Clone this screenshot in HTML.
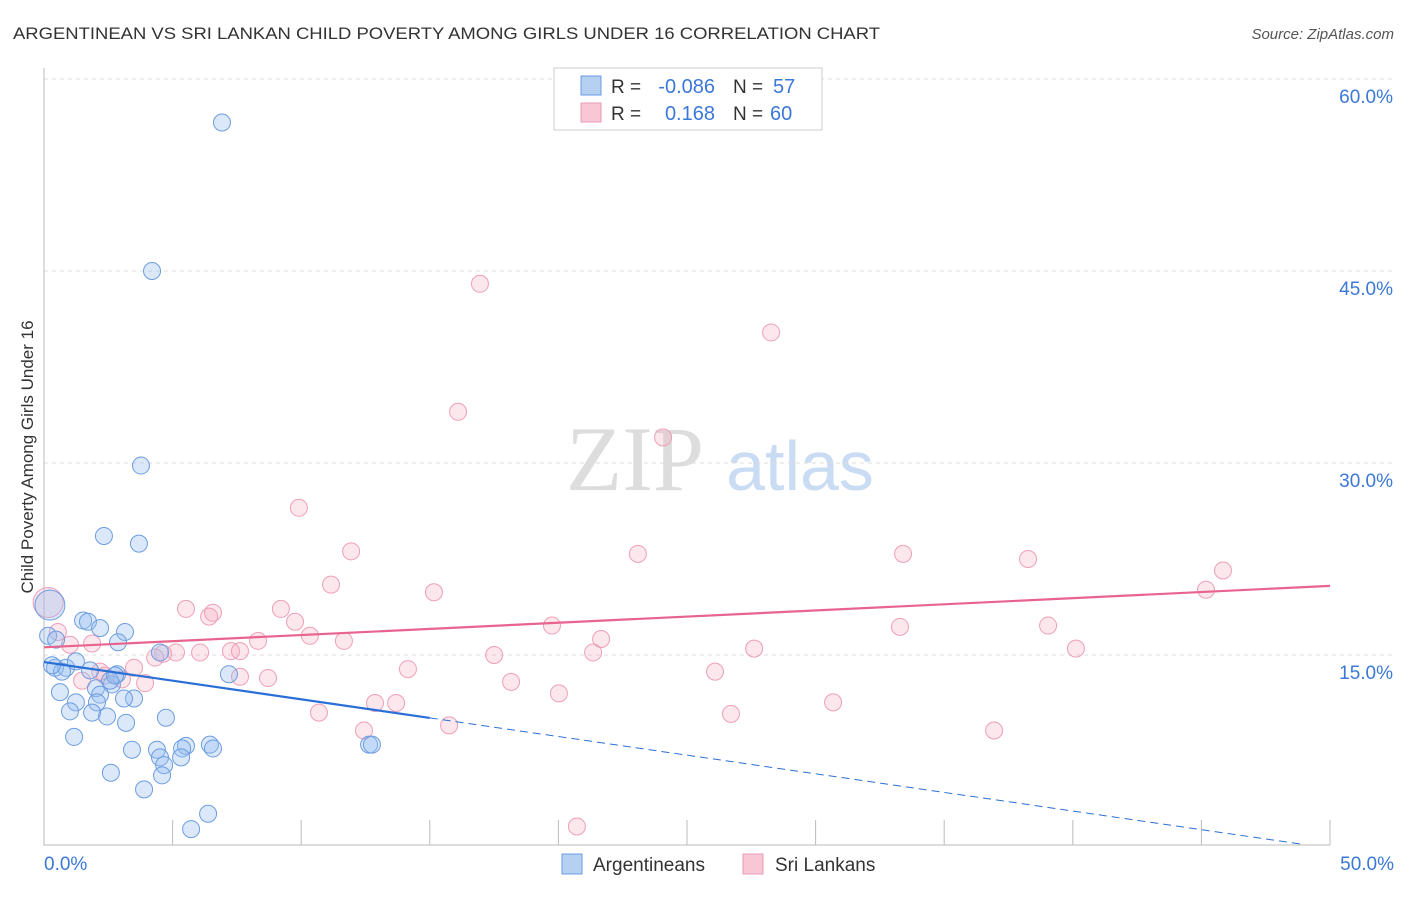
<!DOCTYPE html>
<html><head><meta charset="utf-8"><style>
body{margin:0;background:#fff;font-family:"Liberation Sans",sans-serif;}
</style></head><body>
<svg width="1406" height="892" xmlns="http://www.w3.org/2000/svg">
<text x="13" y="39" font-size="17" fill="#333" textLength="867" lengthAdjust="spacingAndGlyphs">ARGENTINEAN VS SRI LANKAN CHILD POVERTY AMONG GIRLS UNDER 16 CORRELATION CHART</text>
<text x="1394" y="39" font-size="15" fill="#555" text-anchor="end" font-style="italic">Source: ZipAtlas.com</text>
<text x="33" y="457" font-size="17" fill="#333" text-anchor="middle" transform="rotate(-90 33 457)">Child Poverty Among Girls Under 16</text>
<g><text x="635" y="490" font-size="92" fill="#ddd" font-family="Liberation Serif,serif" text-anchor="middle">ZIP</text><text x="800" y="490" font-size="70" fill="#c9dcf3" text-anchor="middle">atlas</text></g>
<g id="grid"></g><g id="axes"></g><g id="marks"></g>
<g>
<rect x="554" y="68" width="268" height="62" fill="#fff" stroke="#ccc"/>
<rect x="581" y="76" width="20" height="19" fill="#b6d0f2" stroke="#6a9be0"/>
<rect x="581" y="103" width="20" height="19" fill="#f8c6d4" stroke="#eb9bb3"/>
<text x="611" y="93" font-size="19" fill="#333">R =</text><text x="715" y="93" font-size="20" fill="#3b78d8" text-anchor="end">-0.086</text>
<text x="733" y="93" font-size="19" fill="#333">N =</text><text x="773" y="93" font-size="20" fill="#3b78d8">57</text>
<text x="611" y="120" font-size="19" fill="#333">R =</text><text x="715" y="120" font-size="20" fill="#3b78d8" text-anchor="end">0.168</text>
<text x="733" y="120" font-size="19" fill="#333">N =</text><text x="770" y="120" font-size="20" fill="#3b78d8">60</text>
</g>
<g>
<rect x="562" y="854" width="20" height="20" fill="#b6d0f2" stroke="#6a9be0"/>
<text x="593" y="871" font-size="19" fill="#333">Argentineans</text>
<rect x="743" y="854" width="20" height="20" fill="#f8c6d4" stroke="#eb9bb3"/>
<text x="775" y="871" font-size="19" fill="#333">Sri Lankans</text>
</g>
</svg>
<script>
const yTicks=[15,30,45,60];
const xTickLabels=["0.0%","50.0%"];
const blueX=[6.92,4.20,3.77,2.33,3.69,0.23,0.16,1.52,1.71,2.18,3.15,2.88,0.43,0.86,1.24,1.79,2.84,2.64,2.02,0.62,1.24,2.18,2.06,3.50,1.01,1.87,2.45,3.19,4.74,1.17,3.42,4.39,4.51,5.52,5.37,6.45,6.57,5.33,4.67,4.59,2.60,3.89,6.38,5.72,7.19,12.64,12.75,4.51,0.70,0.31,0.47,3.11,2.57,2.76];
const blueY=[56.6,45.0,29.8,24.3,23.7,18.9,16.5,17.7,17.6,17.1,16.8,16.0,14.0,14.0,14.5,13.8,13.5,12.7,12.4,12.1,11.3,11.9,11.3,11.6,10.6,10.5,10.2,9.7,10.1,8.6,7.6,7.6,7.0,7.9,7.7,8.0,7.7,7.0,6.4,5.6,5.8,4.5,2.6,1.4,13.5,8.0,8.0,15.2,13.7,14.2,16.2,11.6,13.0,13.4];
const pinkX=[16.95,28.27,16.10,24.07,9.91,11.94,23.09,33.40,38.26,11.16,15.16,45.84,45.18,5.52,6.57,6.42,9.21,9.76,19.75,33.28,39.04,10.34,8.32,11.66,21.66,40.12,7.27,7.62,6.07,5.13,4.63,4.32,17.50,21.35,27.61,14.15,3.50,2.37,7.62,8.71,26.09,3.03,3.93,18.16,20.02,12.87,13.69,10.69,26.71,30.68,12.44,15.75,36.94,20.72,0.16,0.54,1.01,1.87,1.48,2.18];
const pinkY=[44.0,40.2,34.0,32.0,26.5,23.1,22.9,22.9,22.5,20.5,19.9,21.6,20.1,18.6,18.3,18.0,18.6,17.6,17.3,17.2,17.3,16.5,16.1,16.1,16.25,15.5,15.3,15.3,15.2,15.2,15.1,14.8,15.0,15.2,15.5,13.9,14.0,13.4,13.3,13.2,13.7,13.1,12.8,12.9,12.0,11.25,11.25,10.5,10.4,11.3,9.1,9.5,9.1,1.6,19.1,16.8,15.8,15.9,13.0,13.7];
const blueTrend=[14.45,-0.291];
const pinkTrend=[15.6,0.096];
const sx=v=>44+v*25.72, sy=v=>847-v*12.8;
const NS="http://www.w3.org/2000/svg";
function mk(p,t,a){const e=document.createElementNS(NS,t);for(const k in a)e.setAttribute(k,a[k]);p.appendChild(e);return e;}
const grid=document.getElementById('grid'),axes=document.getElementById('axes'),marks=document.getElementById('marks');
yTicks.forEach(t=>{
 const l=mk(grid,'line',{x1:44,x2:1394,y1:sy(t),y2:sy(t),stroke:'#ddd','stroke-dasharray':'4 4'});
 
 
 const tx=mk(grid,'text',{x:1393,y:sy(t)+24,'font-size':19,fill:'#3b78d8','text-anchor':'end'});
 tx.textContent=t.toFixed(1)+'%';
 
 
});
const ax=mk(axes,'path',{d:'M44 68V845H1330',stroke:'#bbb',fill:'none'});


for(let i=0;i<=10;i++){const t=mk(axes,'line',{x1:sx(i*5),x2:sx(i*5),y1:820,y2:845,stroke:'#bbb'});
 
 }
[[0,'start',44],[50,'end',1394]].forEach((d,i)=>{const t=mk(axes,'text',{x:d[2],y:870,'font-size':19,fill:'#3b78d8','text-anchor':d[1]});t.textContent=xTickLabels[i];
 
 });
function dots(X,Y,fill,stroke,name){X.forEach((x,i)=>{const r=(x<0.25&&Y[i]>18.5)?15:8.5;const c=mk(marks,'circle',{cx:sx(x),cy:sy(Y[i]),r:r,fill:fill,stroke:stroke,'stroke-width':1});
 
 });}
dots(pinkX,pinkY,'rgba(246,170,192,0.28)','#ef9fb8','sri-lankan-point');
dots(blueX,blueY,'rgba(150,190,240,0.35)','#6d9de0','argentinean-point');
const bl=mk(marks,'line',{x1:sx(0),y1:sy(blueTrend[0]),x2:sx(15),y2:sy(blueTrend[0]+blueTrend[1]*15),stroke:'#2a6fd6','stroke-width':2.2});


const bd=mk(marks,'line',{x1:sx(15),y1:sy(blueTrend[0]+blueTrend[1]*15),x2:sx(49),y2:sy(blueTrend[0]+blueTrend[1]*49),stroke:'#2a6fd6','stroke-width':1,'stroke-dasharray':'8 5'});


const pl=mk(marks,'line',{x1:sx(0),y1:sy(pinkTrend[0]),x2:sx(50),y2:sy(pinkTrend[0]+pinkTrend[1]*50),stroke:'#e8648e','stroke-width':2.2});


</script>
</body></html>
